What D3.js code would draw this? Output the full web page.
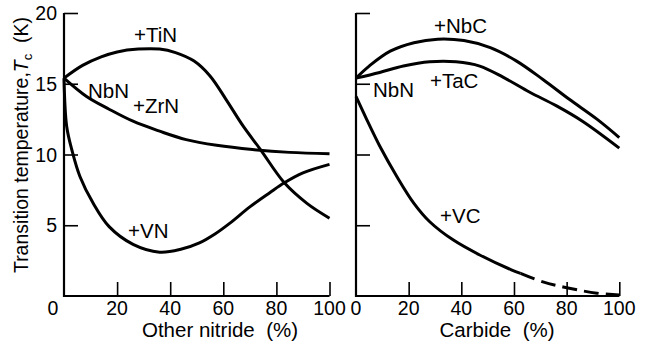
<!DOCTYPE html>
<html>
<head>
<meta charset="utf-8">
<script src="https://cdn.jsdelivr.net/npm/d3@7"></script>
<style>
  html, body { margin: 0; padding: 0; background: #fff; }
  svg { display: block; font-family: "Liberation Sans", Arial, sans-serif; }
</style>
</head>
<body>
<div id="chart"></div>
<script>
// [percent, Tc (K)]
const tinPoints = [[0, 15.4], [7, 16.3], [14, 16.9], [20, 17.25], [28, 17.45], [36, 17.45], [42, 17.2], [49, 16.6], [55, 15.55], [61, 13.9], [67.5, 12], [74, 10.35], [83, 8], [91.5, 6.55], [100, 5.5]];
const zrnPoints = [[0, 15.4], [8.5, 14.1], [17, 13.2], [26, 12.35], [36, 11.65], [46, 11.05], [57.5, 10.65], [71, 10.35], [85, 10.15], [100, 10.05]];
const vnPoints = [[0, 15.4], [1, 12.0], [3, 10.3], [6, 8.45], [11, 6.55], [17, 4.9], [26, 3.65], [36, 3.1], [44, 3.3], [51, 3.75], [57, 4.4], [62.5, 5.15], [70, 6.3], [77.5, 7.3], [83, 8.0], [90, 8.7], [100, 9.3]];

const nbcPoints = [[0, 15.4], [5, 16.25], [13, 17.3], [22, 17.9], [31, 18.15], [41, 18.05], [51, 17.55], [61, 16.6], [71, 15.3], [81, 13.9], [91.5, 12.5], [100, 11.2]];
const tacPoints = [[0, 15.4], [9, 15.8], [18, 16.25], [28, 16.55], [38, 16.55], [47, 16.25], [56, 15.45], [66, 14.4], [76, 13.45], [86, 12.35], [100, 10.45]];
const vcPoints = [[0, 14.1], [4, 12.5], [9, 10.6], [15.5, 8.45], [22, 6.55], [28, 5.25], [37, 3.95], [47, 2.9], [59, 1.85], [62.5, 1.6]];
const vcDashedPoints = [[62.5, 1.6], [71, 1.0], [81, 0.55], [91.5, 0.2], [100, 0.07]];

const xTicks = [0, 20, 40, 60, 80, 100];
const yTicks = [5, 10, 15, 20];
const yTickLabels = ["5", "10", "15", "20"];

const width = 648;
const height = 344;

const svg = d3.select("#chart").append("svg")
  .attr("width", width)
  .attr("height", height);

const y = d3.scaleLinear().domain([0, 20]).range([296, 13]);
const xLeft = d3.scaleLinear().domain([0, 100]).range([64, 329.5]);
const xRight = d3.scaleLinear().domain([0, 100]).range([356, 619.3]);

const drawPanel = (x, leftLabels) => {
  const g = svg.append("g");

  // y axis with inward ticks
  g.append("g")
    .attr("transform", `translate(${x(0)},0)`)
    .call(d3.axisRight(y).tickValues(yTicks).tickSize(14).tickFormat(""))
    .call((a) => a.select(".domain").remove())
    .call((a) => a.selectAll("line").attr("stroke", "#000").attr("stroke-width", 1.6));

  // x axis with upward ticks
  g.append("g")
    .attr("transform", `translate(0,${y(0)})`)
    .call(d3.axisTop(x).tickValues(xTicks.slice(1)).tickSize(14).tickFormat(""))
    .call((a) => a.select(".domain").remove())
    .call((a) => a.selectAll("line").attr("stroke", "#000").attr("stroke-width", 1.6));

  g.append("path")
    .attr("d", `M${x(0)},${y(20)}V${y(0)}H${x(100)}`)
    .attr("fill", "none")
    .attr("stroke", "#000")
    .attr("stroke-width", 2.2);

  g.selectAll(".xlab")
    .data(xTicks)
    .join("text")
    .attr("class", "xlab")
    .attr("x", (d) => (d === 0 && leftLabels ? x(d) - 11 : x(d)))
    .attr("y", 315)
    .attr("text-anchor", "middle")
    .attr("font-size", 19.5)
    .text((d) => d);

  if (leftLabels) {
    g.selectAll(".ylab")
      .data(yTicks)
      .join("text")
      .attr("class", "ylab")
      .attr("x", x(0) - 7)
      .attr("y", (d) => y(d) + 7)
      .attr("text-anchor", "end")
      .attr("font-size", 19.5)
      .text((d, i) => yTickLabels[i]);
  }
  return g;
};

const left = drawPanel(xLeft, true);
const right = drawPanel(xRight, false);

const curve = (g, x, pts, dashed) => {
  const line = d3.line()
    .x((d) => x(d[0]))
    .y((d) => y(d[1]))
    .curve(d3.curveCatmullRom.alpha(0.5));
  g.append("path")
    .attr("d", line(pts))
    .attr("fill", "none")
    .attr("stroke", "#000")
    .attr("stroke-width", 3)
    .attr("stroke-dasharray", dashed ? "15,7" : null);
};

curve(left, xLeft, tinPoints);
curve(left, xLeft, zrnPoints);
curve(left, xLeft, vnPoints);
curve(right, xRight, nbcPoints);
curve(right, xRight, tacPoints);
curve(right, xRight, vcPoints);
curve(right, xRight, vcDashedPoints, true);

// curve labels
const labels = [
  ["+TiN", 134, 41.5],
  ["NbN", 88, 98],
  ["+ZrN", 133, 113],
  ["+VN", 128, 238],
  ["+NbC", 434, 33],
  ["NbN", 373, 97],
  ["+TaC", 430, 88],
  ["+VC", 440, 223]
];
svg.selectAll(".clab")
  .data(labels)
  .join("text")
  .attr("class", "clab")
  .attr("x", (d) => d[1])
  .attr("y", (d) => d[2])
  .attr("font-size", 20.5)
  .text((d) => d[0]);

// axis titles
svg.append("text")
  .attr("x", 220)
  .attr("y", 337)
  .attr("text-anchor", "middle")
  .attr("font-size", 20.5)
  .attr("xml:space", "preserve")
  .text("Other nitride  (%)");

svg.append("text")
  .attr("x", 497)
  .attr("y", 337)
  .attr("text-anchor", "middle")
  .attr("font-size", 20.5)
  .attr("xml:space", "preserve")
  .text("Carbide  (%)");

const yTitle = svg.append("text")
  .attr("transform", "translate(28,145) rotate(-90)")
  .attr("text-anchor", "middle")
  .attr("font-size", 19.5)
  .attr("xml:space", "preserve");
yTitle.append("tspan").text("Transition temperature,");
yTitle.append("tspan").attr("font-style", "italic").text("T");
yTitle.append("tspan").attr("font-size", 13).attr("dy", 4).text("c");
yTitle.append("tspan").attr("dy", -4).text("  (K)");
</script>
</body>
</html>
